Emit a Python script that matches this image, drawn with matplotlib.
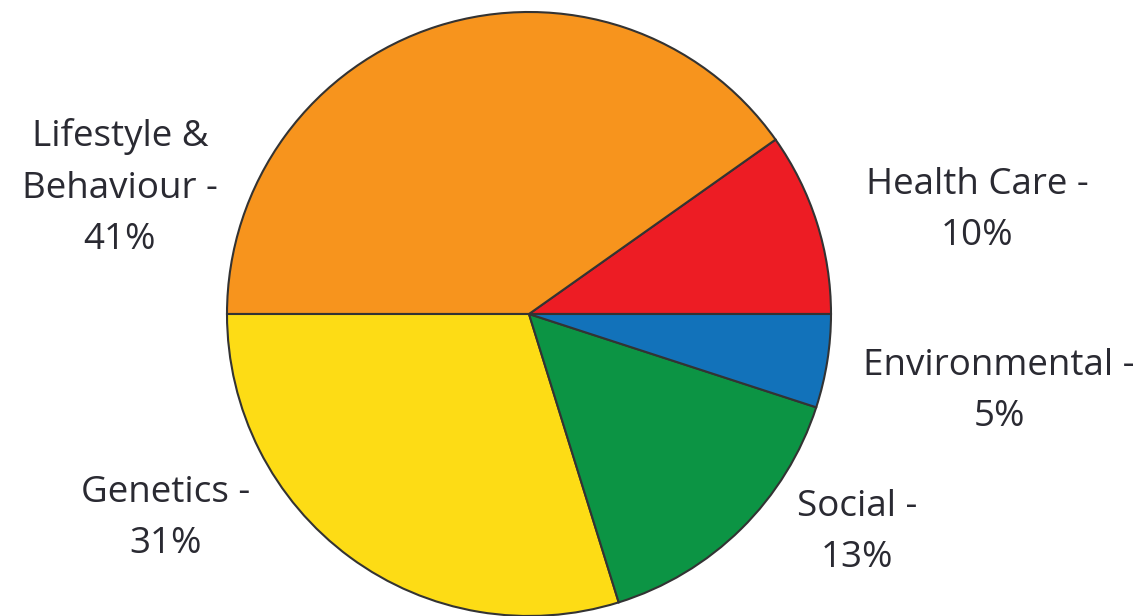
import matplotlib.pyplot as plt

categories = ['Health Care', 'Lifestyle &\nBehaviour', 'Genetics', 'Social', 'Environmental']
# wedge sizes as drawn in the picture (degrees share), labels show the stated percentages
sizes = [9.8, 40.2, 29.8, 15.2, 5.0]
pct_labels = ['10%', '41%', '31%', '13%', '5%']
colors = ['#ED1C24', '#F7941D', '#FDDC15', '#0C9444', '#1272BA']

# label anchors in pixel coords (x, baseline of last line from top)
label_pos = [(977, 245), (120, 249), (166, 553), (857, 567), (999, 426)]

W, H = 1146, 616
fig = plt.figure(figsize=(W / 100, H / 100), dpi=100)
ax = fig.add_axes([0, 0, 1, 1])

ax.pie(sizes, colors=colors, startangle=0, counterclock=True,
       center=(529, H - 314), radius=302,
       wedgeprops=dict(edgecolor='#333333', linewidth=1.5))

# pie resets the limits, so put the pixel frame back afterwards
ax.set_xlim(0, W)
ax.set_ylim(0, H)
ax.set_aspect('equal')
ax.axis('off')

for cat, pct, (x, y) in zip(categories, pct_labels, label_pos):
    ax.text(x, H - y, f'{cat} -\n{pct}', ha='center', va='baseline',
            fontsize=26.5, color='#2a2a32', family='Open Sans',
            linespacing=1.57, multialignment='center')

fig.savefig('out.png', dpi=100)
